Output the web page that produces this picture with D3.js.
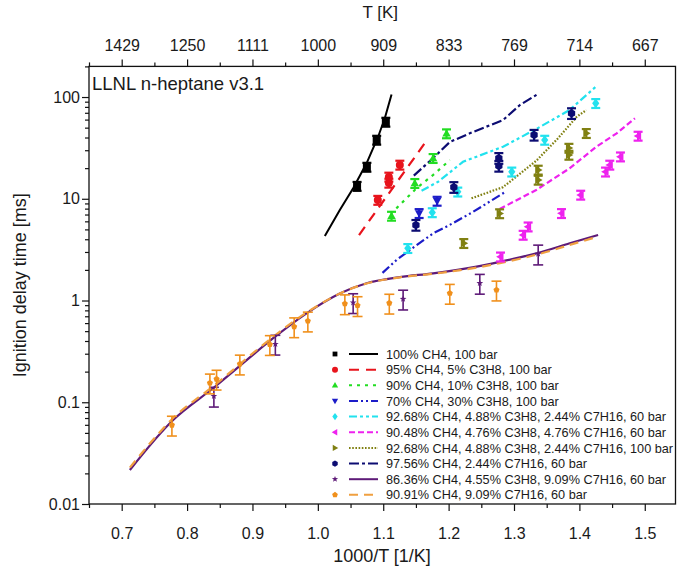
<!DOCTYPE html>
<html><head><meta charset="utf-8">
<script src="https://cdn.jsdelivr.net/npm/d3@7"></script>
<style>
body{margin:0;background:#fff;}
text{font-family:"Liberation Sans",Arial,sans-serif;fill:#1a1a1a;}
</style></head>
<body><svg id="c" width="677" height="571"></svg>
<script>
// ---------- axis ticks ----------
const xMajorTicks = [0.7, 0.8, 0.9, 1.0, 1.1, 1.2, 1.3, 1.4, 1.5];
const xMinorTicks = [0.65, 0.75, 0.85, 0.95, 1.05, 1.15, 1.25, 1.35, 1.45];
const xTickLabels = ["0.7", "0.8", "0.9", "1.0", "1.1", "1.2", "1.3", "1.4", "1.5"];
const topTickLabels = ["1429", "1250", "1111", "1000", "909", "833", "769", "714", "667"];
const yMajorTicks = [0.01, 0.1, 1, 10, 100];
const yTickLabels = ["0.01", "0.1", "1", "10", "100"];

// ---------- series names ----------
const seriesNames = [
  "100% CH4, 100 bar",
  "95% CH4, 5% C3H8, 100 bar",
  "90% CH4, 10% C3H8, 100 bar",
  "70% CH4, 30% C3H8, 100 bar",
  "92.68% CH4, 4.88% C3H8, 2.44% C7H16, 60 bar",
  "90.48% CH4, 4.76% C3H8, 4.76% C7H16, 60 bar",
  "92.68% CH4, 4.88% C3H8, 2.44% C7H16, 100 bar",
  "97.56% CH4, 2.44% C7H16, 60 bar",
  "86.36% CH4, 4.55% C3H8, 9.09% C7H16, 60 bar",
  "90.91% CH4, 9.09% C7H16, 60 bar"
];

// ---------- experiments (1000/T, tau ms) ----------
const expX0 = [1.060, 1.075, 1.090, 1.104];
const expY0 = [13.3, 20.5, 37.8, 56.8];
const expX1 = [1.0917, 1.1086, 1.1086, 1.1254];
const expY1 = [9.7, 14.3, 16.4, 21.5];
const expX2 = [1.1127, 1.1483, 1.1763, 1.1968];
const expY2 = [6.77, 14.2, 25.0, 43.7];
const expX3 = [1.1549, 1.1824];
const expY3 = [7.19, 9.5];
const expX4 = [1.1376, 1.175, 1.214, 1.2966, 1.347, 1.425];
const expY4 = [3.26, 7.33, 11.7, 18.4, 37.8, 86.7];
const expX5 = [1.2794, 1.314, 1.3216, 1.3726, 1.402, 1.440, 1.4465, 1.4628, 1.4898];
const expY5 = [2.69, 4.40, 5.31, 7.19, 10.9, 18.4, 21.5, 25.9, 41.4];
const expX6 = [1.2232, 1.278, 1.337, 1.337, 1.384, 1.384, 1.4106];
const expY6 = [3.65, 7.16, 15.3, 19.2, 26.9, 31.5, 44.0];
const expX7 = [1.150, 1.208, 1.2768, 1.2768, 1.3307, 1.388];
const expY7 = [5.52, 13.0, 21.0, 25.1, 42.4, 69.2];
const expX8 = [0.841, 0.935, 1.054, 1.1304, 1.2477, 1.337];
const expY8 = [0.115, 0.373, 0.955, 1.035, 1.48, 2.87];
const expX9 = [0.7768, 0.8349, 0.8451, 0.8807, 0.9266, 0.9638, 0.9847, 1.0413, 1.0607, 1.1093, 1.2018, 1.2732];
const expY9 = [0.0597, 0.155, 0.169, 0.238, 0.370, 0.553, 0.630, 0.931, 0.893, 0.944, 1.18, 1.27];
// relative experimental uncertainty per series
const errFrac = [0.1, 0.1, 0.1, 0.1, 0.1, 0.1, 0.1, 0.12, 0.22, 0.22];

// ---------- simulations ----------
const simX0 = [1.0107, 1.0336, 1.054, 1.0745, 1.0922, 1.1024, 1.1127];
const simY0 = [4.31, 7.74, 12.7, 22.3, 40.7, 61.8, 106];
const simX1 = [1.063, 1.115, 1.166];
const simY1 = [4.4, 12.9, 37];
const simX2 = [1.120, 1.151, 1.176, 1.202];
const simY2 = [8.05, 12.7, 17.1, 24.0];
const simX3 = [1.0989, 1.1203, 1.1407, 1.1763, 1.1988, 1.237, 1.286];
const simY3 = [1.87, 2.50, 3.13, 4.57, 5.40, 7.41, 11.6];
const simX4 = [1.1586, 1.184, 1.222, 1.2833, 1.334, 1.385, 1.426];
const simY4 = [12.0, 14.7, 23.1, 32.5, 48.5, 74.5, 128];
const simX5 = [1.278, 1.334, 1.385, 1.426, 1.457, 1.485];
const simY5 = [7.93, 12.2, 19.9, 32.5, 44.0, 61.8];
const simX6 = [1.235, 1.283, 1.334, 1.367, 1.396, 1.4106];
const simY6 = [10.1, 13.0, 23.6, 39.1, 64.0, 74.5];
const simX7 = [1.1468, 1.176, 1.2018, 1.2324, 1.2833, 1.309, 1.3344];
const simY7 = [16.9, 25.0, 36.1, 44.0, 59.4, 83.4, 105];
const simX8 = [0.7125, 0.7787, 0.8425, 0.9317, 0.9827, 1.0336, 1.0745, 1.1254, 1.1763, 1.2274, 1.2783, 1.3344, 1.3853, 1.4286];
const simY8 = [0.0216, 0.0670, 0.142, 0.426, 0.748, 1.17, 1.48, 1.70, 1.85, 2.07, 2.40, 2.91, 3.65, 4.40];
const simX9 = [0.7125, 0.7787, 0.8425, 0.9317, 0.9827, 1.0336, 1.0745, 1.1254, 1.1763, 1.2274, 1.2783, 1.3344, 1.3853, 1.4286];
const simY9 = [0.0228, 0.070, 0.148, 0.440, 0.760, 1.17, 1.47, 1.69, 1.83, 2.03, 2.33, 2.82, 3.52, 4.25];

const expX = [expX0, expX1, expX2, expX3, expX4, expX5, expX6, expX7, expX8, expX9];
const expY = [expY0, expY1, expY2, expY3, expY4, expY5, expY6, expY7, expY8, expY9];
const simX = [simX0, simX1, simX2, simX3, simX4, simX5, simX6, simX7, simX8, simX9];
const simY = [simY0, simY1, simY2, simY3, simY4, simY5, simY6, simY7, simY8, simY9];

// ---------- styles ----------
const colors = ["#000000", "#e8141c", "#22dd22", "#1c1cc8", "#22e2ee", "#ee22ee", "#808012", "#0c0c72", "#5e1a78", "#f0901c"];
const lineColors = ["#000000", "#e8141c", "#22dd22", "#1c1cc8", "#22e2ee", "#ee22ee", "#808012", "#0c0c72", "#5e1a78", "#f0a040"];
const symbols = ["square", "circle", "triUp", "triDown", "diamond", "triLeft", "triRight", "hexagon", "star", "pentagon"];
const dashes = ["none", "10,7", "3,5", "9,3,2,3,2,3", "8,3,3,3,3,3", "6,3", "1.6,1.6", "10,3,3,3", "none", "9,6"];

const svg = d3.select("#c");
const L = 89, R = 675.5, T = 66.4, B = 504;
const x = d3.scaleLinear().domain([0.65, 1.547]).range([L, R]);
const y = d3.scaleLog().domain([0.01, 200]).range([B, T]);

function poly(pts){ return "M" + pts.map(p => p[0].toFixed(2) + "," + p[1].toFixed(2)).join("L") + "Z"; }
function symPath(kind, r){
  switch(kind){
    case "square": return poly([[-r,-r],[r,-r],[r,r],[-r,r]]);
    case "circle": return d3.symbol(d3.symbolCircle, Math.PI*r*r)();
    case "triUp": return poly([[0,-r*1.1],[r*1.05,r*0.75],[-r*1.05,r*0.75]]);
    case "triDown": return poly([[0,r*1.1],[r*1.05,-r*0.75],[-r*1.05,-r*0.75]]);
    case "triLeft": return poly([[-r*1.1,0],[r*0.75,-r*1.05],[r*0.75,r*1.05]]);
    case "triRight": return poly([[r*1.1,0],[-r*0.75,-r*1.05],[-r*0.75,r*1.05]]);
    case "diamond": return poly([[0,-r*1.2],[r*0.9,0],[0,r*1.2],[-r*0.9,0]]);
    case "hexagon": return poly(d3.range(6).map(i => [r*1.05*Math.cos(Math.PI/3*i+Math.PI/6), r*1.05*Math.sin(Math.PI/3*i+Math.PI/6)]));
    case "pentagon": return poly(d3.range(5).map(i => [r*Math.cos(-Math.PI/2+2*Math.PI/5*i), r*Math.sin(-Math.PI/2+2*Math.PI/5*i)]));
    case "star": return poly(d3.range(10).map(i => { const rr = i%2 ? r*0.45 : r*1.1; const a = -Math.PI/2 + Math.PI/5*i; return [rr*Math.cos(a), rr*Math.sin(a)]; }));
  }
}

// ---------- frame ----------
svg.append("rect").attr("x", L).attr("y", T).attr("width", R-L).attr("height", B-T)
  .attr("fill", "none").attr("stroke", "#111").attr("stroke-width", 1.3);

// ---------- axes ----------
function styleAxis(g){ g.select(".domain").remove(); g.selectAll("line").attr("stroke", "#111").attr("stroke-width", 1.2); g.selectAll("text").attr("font-size", 16).attr("fill", "#1a1a1a").style("font-family", '"Liberation Sans",Arial,sans-serif'); }

svg.append("g").attr("transform", `translate(0,${B})`)
  .call(d3.axisBottom(x).tickValues(xMajorTicks).tickFormat((d,i) => xTickLabels[i]).tickSize(7).tickPadding(17))
  .call(styleAxis);
svg.append("g").attr("transform", `translate(0,${B})`)
  .call(d3.axisBottom(x).tickValues(xMinorTicks).tickFormat("").tickSize(4)).call(styleAxis);
svg.append("g").attr("transform", `translate(0,${T})`)
  .call(d3.axisTop(x).tickValues(xMajorTicks).tickFormat((d,i) => topTickLabels[i]).tickSize(7).tickPadding(8))
  .call(styleAxis);
svg.append("g").attr("transform", `translate(0,${T})`)
  .call(d3.axisTop(x).tickValues(xMinorTicks).tickFormat("").tickSize(4)).call(styleAxis);

const yMinor = [];
[0.01, 0.1, 1, 10, 100].forEach(dec => { for (let k = 2; k <= 9; k++){ const v = dec*k; if (v <= 200) yMinor.push(v); } });
svg.append("g").attr("transform", `translate(${L},0)`)
  .call(d3.axisLeft(y).tickValues(yMajorTicks).tickFormat((d,i) => yTickLabels[i]).tickSize(7).tickPadding(2))
  .call(styleAxis);
svg.append("g").attr("transform", `translate(${L},0)`)
  .call(d3.axisLeft(y).tickValues(yMinor).tickFormat("").tickSize(4)).call(styleAxis);

// ---------- titles ----------
svg.append("text").attr("x", (L+R)/2 - 2).attr("y", 18).attr("text-anchor", "middle").attr("font-size", 17).text("T [K]");
svg.append("text").attr("x", 382).attr("y", 562).attr("text-anchor", "middle").attr("font-size", 18).text("1000/T [1/K]");
svg.append("text").attr("transform", `translate(26,${(T+B)/2}) rotate(-90)`).attr("text-anchor", "middle").attr("font-size", 18).text("Ignition delay time [ms]");
svg.append("text").attr("x", 92).attr("y", 90).attr("font-size", 18.5).text("LLNL n-heptane v3.1");

// ---------- simulation lines ----------
const plot = svg.append("g");
simX.forEach((xs, s) => {
  const pts = xs.map((v, i) => [v, simY[s][i]]);
  const gen = d3.line().x(d => x(d[0])).y(d => y(d[1])).curve(s >= 8 ? d3.curveCatmullRom.alpha(0.5) : d3.curveLinear);
  plot.append("path").attr("d", gen(pts)).attr("fill", "none")
    .attr("stroke", lineColors[s]).attr("stroke-width", s === 0 ? 2 : 2.2)
    .attr("stroke-dasharray", dashes[s]);
});

// ---------- experimental points with error bars ----------
expX.forEach((xs, s) => {
  const open = s >= 8;
  xs.forEach((v, i) => {
    const val = expY[s][i];
    const cx = x(v), cy = y(val);
    const y1 = y(val*(1+errFrac[s])), y2 = y(val*(1-errFrac[s]));
    const cw = open ? 5 : 4.5;
    const g = plot.append("g").attr("stroke", colors[s]).attr("stroke-width", open ? 1.6 : 2.2);
    g.append("line").attr("x1", cx).attr("x2", cx).attr("y1", y1).attr("y2", y2);
    g.append("line").attr("x1", cx-cw).attr("x2", cx+cw).attr("y1", y1).attr("y2", y1);
    g.append("line").attr("x1", cx-cw).attr("x2", cx+cw).attr("y1", y2).attr("y2", y2);
    plot.append("path").attr("d", symPath(symbols[s], open ? 3.2 : 4))
      .attr("transform", `translate(${cx},${cy})`).attr("fill", colors[s]);
  });
});

// ---------- legend ----------
const leg = svg.append("g");
seriesNames.forEach((name, s) => {
  const yy = 354 + s*15.65;
  leg.append("path").attr("d", symPath(symbols[s], s === 0 ? 2.4 : 3)).attr("transform", `translate(335,${yy})`).attr("fill", colors[s]);
  leg.append("line").attr("x1", 349).attr("x2", 378).attr("y1", yy).attr("y2", yy)
    .attr("stroke", lineColors[s]).attr("stroke-width", 2).attr("stroke-dasharray", dashes[s]);
  leg.append("text").attr("x", 386).attr("y", yy + 4.6).attr("font-size", 12.7).text(name);
});
</script></body></html>
